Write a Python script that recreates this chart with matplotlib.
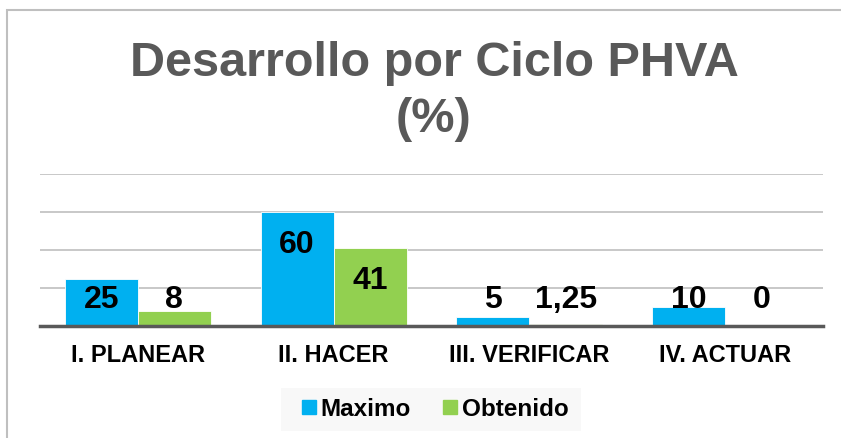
import matplotlib
matplotlib.use("Agg")
import matplotlib.pyplot as plt
from matplotlib.patches import Rectangle
from matplotlib.lines import Line2D

categories = ["I. PLANEAR", "II. HACER", "III. VERIFICAR", "IV. ACTUAR"]
maximo = [25, 60, 5, 10]
obtenido = [8, 41, 1.25, 0]
maximo_labels = ["25", "60", "5", "10"]
obtenido_labels = ["8", "41", "1,25", "0"]
series_names = ["Maximo", "Obtenido"]

BLUE = "#00B0F0"
GREEN = "#92D050"
FONT = "Liberation Sans"

W, H = 841, 438
fig = plt.figure(figsize=(W / 100, H / 100), dpi=100)
fig.patch.set_facecolor("white")

# outer chart border (partially visible)
fig.patches.append(Rectangle((7 / W, -0.1), 1.2, (H - 10) / H + 0.1,
                             transform=fig.transFigure, fill=False,
                             edgecolor="#BFBFBF", linewidth=1.5))

ax = fig.add_axes([40 / W, (H - 326) / H, 783 / W, 152 / H])
ax.set_xlim(-0.5, 3.5)
ax.set_ylim(0, 80)

bw = 0.373
xs = list(range(len(categories)))
ax.bar([x - bw / 2 for x in xs], maximo, width=bw, color=BLUE,
       edgecolor="white", linewidth=0.6, zorder=3)
ax.bar([x + bw / 2 for x in xs], obtenido, width=bw, color=GREEN,
       edgecolor="white", linewidth=0.6, zorder=3)

for x, v, lab in zip(xs, maximo, maximo_labels):
    ax.text(x - bw / 2, max(v - 17.4, 13.7), lab, ha="center", va="center",
            fontsize=23, fontweight="bold", family=FONT, color="black", zorder=5)
for x, v, lab in zip(xs, obtenido, obtenido_labels):
    ax.text(x + bw / 2, max(v - 17.4, 13.7), lab, ha="center", va="center",
            fontsize=23, fontweight="bold", family=FONT, color="black", zorder=5)

ax.set_yticks([20, 40, 60, 80])
ax.yaxis.grid(True, color="#BFBFBF", linewidth=1.2, zorder=0)
ax.tick_params(axis="y", left=False, labelleft=False)
for s in ["left", "right", "top"]:
    ax.spines[s].set_visible(False)
ax.spines["bottom"].set_color("#595959")
ax.spines["bottom"].set_linewidth(2.5)
ax.spines["bottom"].set_zorder(4)

ax.set_xticks(xs)
ax.set_xticklabels(categories, fontsize=17, fontweight="bold", family=FONT)
ax.tick_params(axis="x", length=0, pad=13)

fig.text(434 / W, 1 - 64 / H, "Desarrollo por Ciclo PHVA", ha="center", va="center",
         fontsize=35, fontweight="bold", family=FONT, color="#595959")
fig.text(434 / W, 1 - 119 / H, "(%)", ha="center", va="center",
         fontsize=35, fontweight="bold", family=FONT, color="#595959")

# legend background
fig.patches.append(Rectangle((281 / W, 1 - 431 / H), 300 / W, 43 / H,
                             transform=fig.transFigure, facecolor="#F8F8F8",
                             edgecolor="none", zorder=0))
handles = [Line2D([], [], marker="s", linestyle="none", markersize=9.5,
                  markerfacecolor=c, markeredgecolor=c) for c in (BLUE, GREEN)]
leg = fig.legend(handles, series_names, loc="center", bbox_to_anchor=(434 / W, 1 - 409.5 / H),
                 ncol=2, frameon=False, handletextpad=0.1, columnspacing=1.2,
                 handlelength=0.8, prop={"family": FONT, "weight": "bold", "size": 17.5})

fig.savefig("out.png", dpi=100, facecolor="white")
